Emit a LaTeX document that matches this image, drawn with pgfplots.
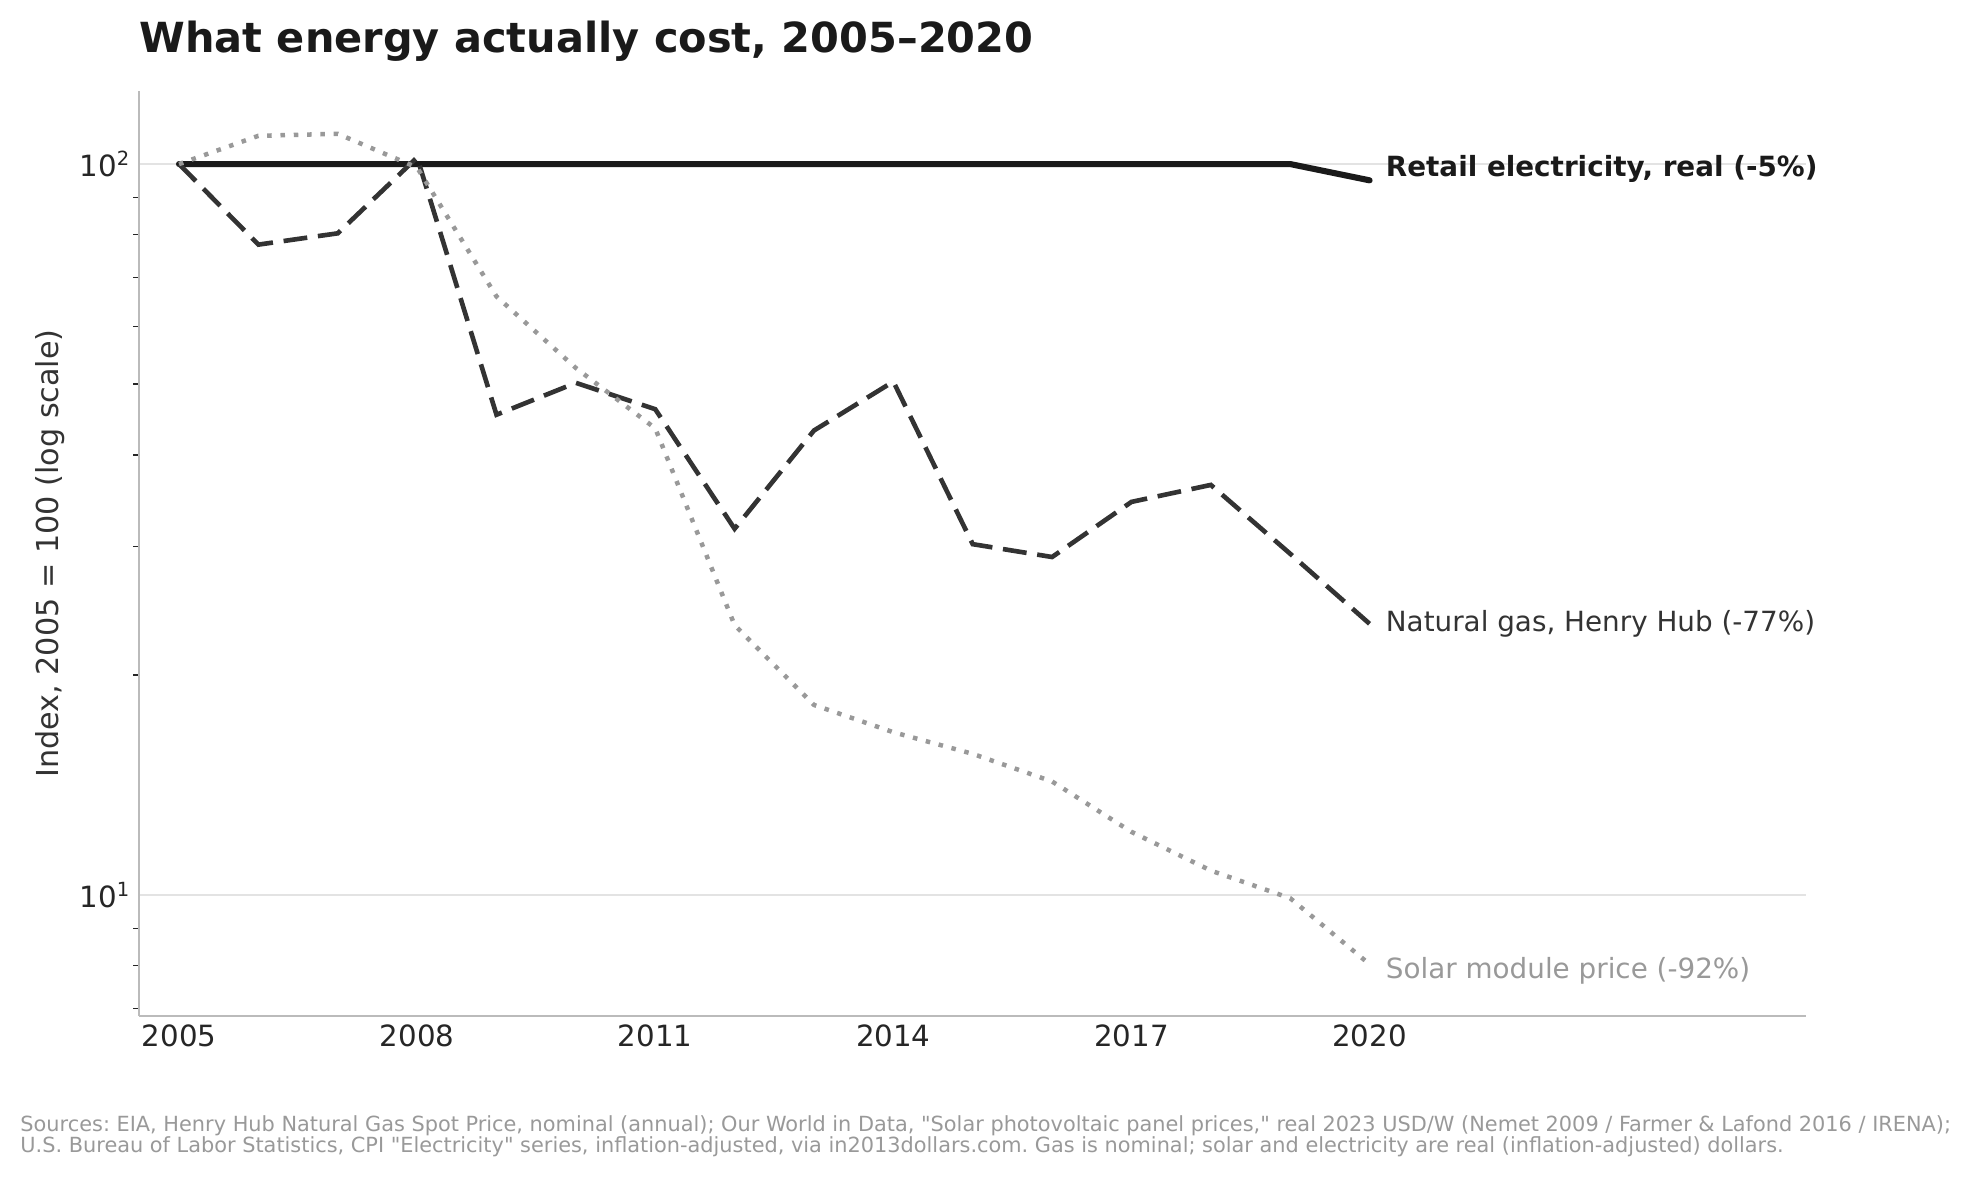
\documentclass[border=0pt]{standalone}
\usepackage{fontspec}
\setmainfont{DejaVu Sans}[Ligatures=TeXOff]
\usepackage{pgfplots}
\pgfplotsset{compat=1.18}
\definecolor{elec}{HTML}{1A1A1A}
\definecolor{gas}{HTML}{333333}
\definecolor{solar}{HTML}{999999}
\definecolor{gridc}{HTML}{E3E3E3}
\definecolor{spine}{HTML}{BBBBBB}
\definecolor{tickc}{HTML}{262626}
\definecolor{foot}{HTML}{999999}
\frenchspacing
\begin{document}
\begin{tikzpicture}
\begin{axis}[
  name=main,
  scale only axis, width=683.5pt, height=379.3pt,
  xmin=2004.496, xmax=2025.5,
  ymode=log, ymin=6.83, ymax=125.9,
  axis lines*=left,
  axis line style={draw=spine, line width=0.8pt},
  ymajorgrids, major grid style={draw=gridc, line width=0.75pt},
  xtick={2005,2008,2011,2014,2017,2020},
  xticklabels={2005,2008,2011,2014,2017,2020},
  ytick={10,100},
  yticklabels={10\textsuperscript{1},10\textsuperscript{2}},
  minor ytick={7,8,9,20,30,40,50,60,70,80,90},
  major tick length=0pt, minor tick length=2.3pt, tick align=outside,
  minor tick style={draw=tickc, line width=0.5pt},
  tick label style={font=\fontsize{12}{14}\selectfont, text=tickc},
  ylabel={Index, 2005 = 100 (log scale)},
  ylabel style={font=\fontsize{12.4}{14}\selectfont, text=gas, at={(axis description cs:-0.0534,0.5)}, anchor=center},
  clip=false,
]
\addplot[elec, line width=2.5pt, line cap=round, line join=round] coordinates {
(2005,100) (2006,100) (2007,100) (2008,100) (2009,100) (2010,100) (2011,100) (2012,100)
(2013,100) (2014,100) (2015,100) (2016,100) (2017,100) (2018,100) (2019,100) (2020,95.0)};
\addplot[gas, line width=1.9pt, dash pattern=on 9.8pt off 4.4pt] coordinates {
(2005,100) (2006,77.6) (2007,80.4) (2008,102.1) (2009,45.4) (2010,50.2) (2011,46.2) (2012,31.7)
(2013,43.2) (2014,50.4) (2015,30.2) (2016,29.0) (2017,34.5) (2018,36.4) (2019,29.3) (2020,23.5)};
\addplot[solar, line width=1.85pt, dash pattern=on 1.85pt off 3.6pt] coordinates {
(2005,100) (2006,109.3) (2007,110.0) (2008,98.9) (2009,65.9) (2010,52.6) (2011,43.5) (2012,23.4)
(2013,18.2) (2014,16.7) (2015,15.6) (2016,14.3) (2017,12.2) (2018,10.8) (2019,9.9) (2020,8.04)};
\node[anchor=west, inner sep=0pt, font=\bfseries\fontsize{11.4}{13}\selectfont, text=elec] at (axis cs:2020.2,98.4) {Retail electricity, real (-5\%)};
\node[anchor=west, inner sep=0pt, font=\fontsize{11.4}{13}\selectfont, text=gas] at (axis cs:2020.2,23.5) {Natural gas, Henry Hub (-77\%)};
\node[anchor=west, inner sep=0pt, font=\fontsize{11.4}{13}\selectfont, text=solar] at (axis cs:2020.2,7.87) {Solar module price (-92\%)};
\node[anchor=base west, inner sep=0pt, font=\bfseries\fontsize{17}{20}\selectfont, text=elec, yshift=15.6pt] at (rel axis cs:0,1) {What energy actually cost, 2005–2020};
\node[anchor=base west, inner sep=0pt, font=\fontsize{8.55}{10}\selectfont, text=foot, xshift=-48.8pt, yshift=-47.2pt] at (rel axis cs:0,0) {Sources: EIA, Henry Hub Natural Gas Spot Price, nominal (annual); Our World in Data, "Solar photovoltaic panel prices," real 2023 USD/W (Nemet 2009 / Farmer \& Lafond 2016 / IRENA);};
\node[anchor=base west, inner sep=0pt, font=\fontsize{8.55}{10}\selectfont, text=foot, xshift=-48.8pt, yshift=-55.8pt] at (rel axis cs:0,0) {U.S. Bureau of Labor Statistics, CPI "Electricity" series, inflation-adjusted, via in2013dollars.com. Gas is nominal; solar and electricity are real (inflation-adjusted) dollars.};
\end{axis}
\path ([xshift=-57pt,yshift=-66.4pt]main.south west) rectangle ([xshift=66.8pt,yshift=37.3pt]main.north east);
\end{tikzpicture}
\end{document}
